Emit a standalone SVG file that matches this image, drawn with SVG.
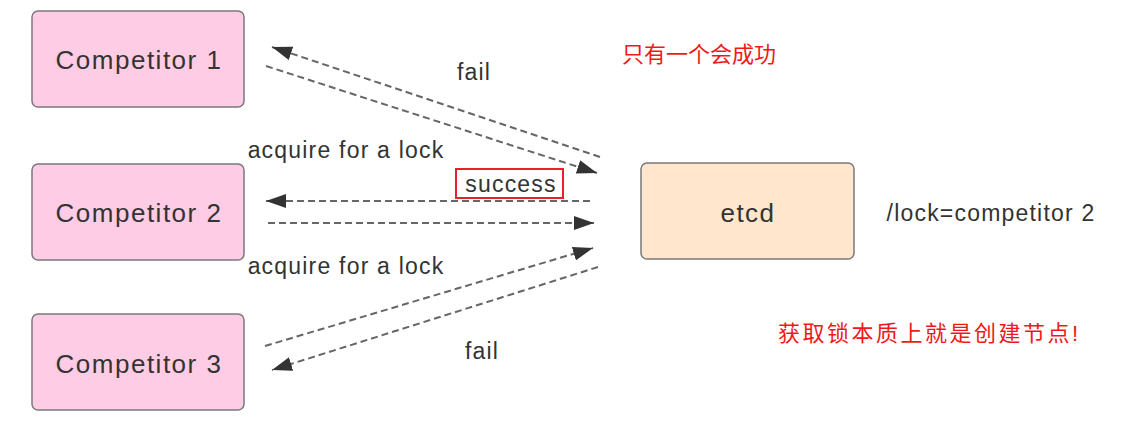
<svg xmlns="http://www.w3.org/2000/svg" width="1131" height="422" viewBox="0 0 1131 422">
<style>
.comp rect{fill:#FFCCE6;stroke:#7a7a7a;stroke-width:1.5}
.etcd rect{fill:#FFE6CC;stroke:#7a7a7a;stroke-width:1.5}
text{font-family:"Comic Sans MS","Liberation Sans","Noto Sans CJK SC",sans-serif;fill:#333}
.nl{font-size:26px;text-anchor:middle;letter-spacing:1.5px}
.lb{font-size:23px;text-anchor:middle;letter-spacing:1.2px}
.red{fill:#f01818;font-size:22px}
.conn line{stroke:#666;stroke-width:2;stroke-dasharray:7,4;fill:none}
</style>
<defs>
<marker id="ahl" viewBox="0 0 20 14" refX="20" refY="7" markerWidth="20" markerHeight="14" markerUnits="userSpaceOnUse" orient="auto">
<path d="M0,0 L20,7 L0,14 Z" fill="#333"/>
</marker>
</defs>
<rect width="1131" height="422" fill="#fff"/>
<g id="competitor1" class="comp"><rect x="32" y="11" width="212" height="96" rx="6"/><text class="nl" x="139" y="69">Competitor 1</text></g>
<g id="competitor2" class="comp"><rect x="32" y="164" width="212" height="96" rx="6"/><text class="nl" x="139" y="222">Competitor 2</text></g>
<g id="competitor3" class="comp"><rect x="32" y="314" width="212" height="96" rx="6"/><text class="nl" x="139" y="373">Competitor 3</text></g>
<g id="etcd" class="etcd"><rect x="641" y="163" width="213" height="96" rx="6"/><text class="nl" x="748" y="222">etcd</text></g>
<g id="connectors" class="conn">
<line x1="600" y1="157" x2="272" y2="47" marker-end="url(#ahl)"/>
<line x1="266" y1="66" x2="597" y2="173" marker-end="url(#ahl)"/>
<line x1="590" y1="201" x2="266" y2="201" marker-end="url(#ahl)"/>
<line x1="268" y1="223" x2="594" y2="223" marker-end="url(#ahl)"/>
<line x1="265" y1="346" x2="593" y2="248" marker-end="url(#ahl)"/>
<line x1="598" y1="267" x2="272" y2="370" marker-end="url(#ahl)"/>
</g>
<g id="labels">
<text class="lb" x="474" y="80">fail</text>
<text class="lb" x="346" y="158">acquire for a lock</text>
<rect x="456" y="169" width="107" height="29" fill="none" stroke="#e8202a" stroke-width="2"/>
<text class="lb" x="511" y="192">success</text>
<text class="lb" x="346" y="274">acquire for a lock</text>
<text class="lb" x="482" y="359">fail</text>
<text class="lb" x="991" y="221">/lock=competitor 2</text>
<text class="red" x="622" y="62">只有一个会成功</text>
<text class="red" x="778" y="341" letter-spacing="2.5">获取锁本质上就是创建节点!</text>
</g>
</svg>
